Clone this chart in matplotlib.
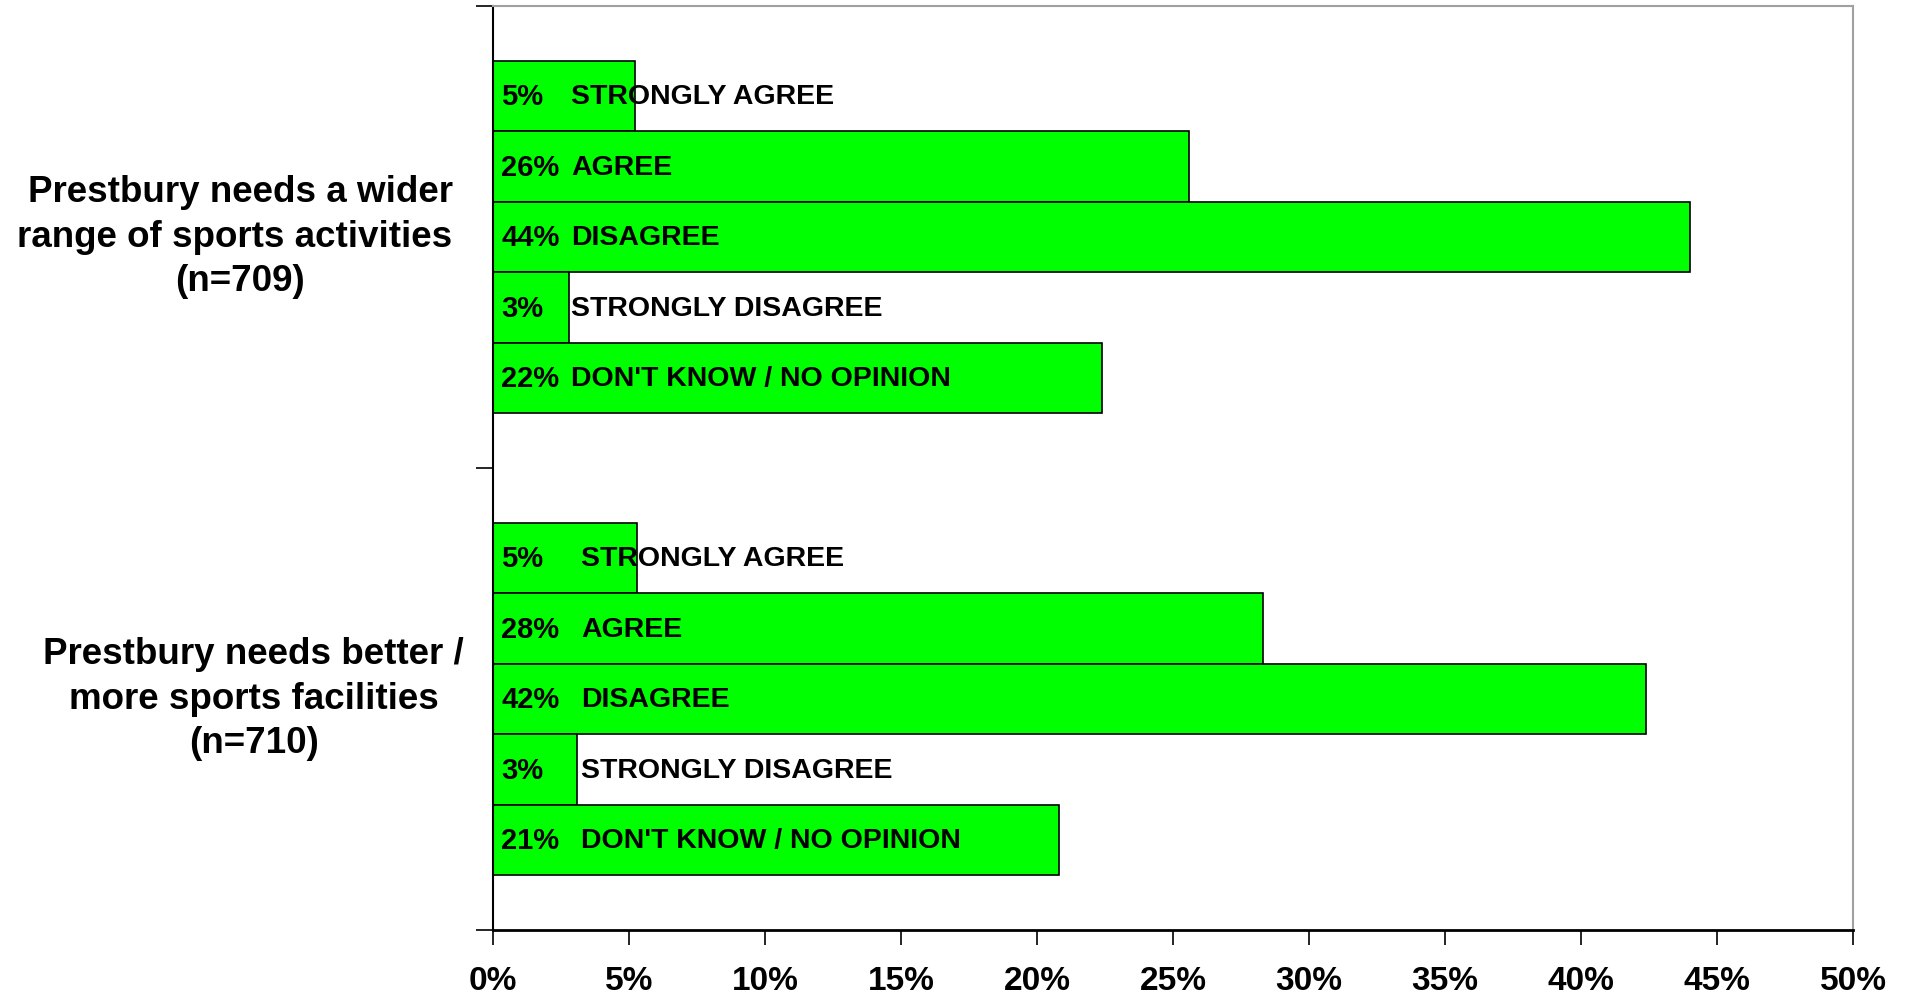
import matplotlib
matplotlib.use("Agg")
import matplotlib.pyplot as plt
import matplotlib.transforms as mtransforms

# ==========================
# DATA
# ==========================

questions = [
    "Prestbury needs a wider\nrange of sports activities \n(n=709)",
    "Prestbury needs better /\nmore sports facilities\n(n=710)",
]
answers = [
    "STRONGLY AGREE",
    "AGREE",
    "DISAGREE",
    "STRONGLY DISAGREE",
    "DON'T KNOW / NO OPINION",
]
wider_range = [5.2, 25.6, 44.0, 2.8, 22.4]
better_facilities = [5.3, 28.3, 42.4, 3.1, 20.8]
wider_labels = ["5%", "26%", "44%", "3%", "22%"]
better_labels = ["5%", "28%", "42%", "3%", "21%"]
x_ticks = [0, 5, 10, 15, 20, 25, 30, 35, 40, 45, 50]

series = [wider_range, better_facilities]
pct_labels = [wider_labels, better_labels]

# ==========================
# LAYOUT / STYLE
# ==========================

FONT = ["Liberation Sans", "DejaVu Sans"]
GREEN = "#00FF00"
BAR_H = 0.1526
TEXT_OFFSET_PX = [78, 88]   # answer text offset from the axis, per question
QUESTION_X = [-0.186, -0.176]

plt.rcParams["font.family"] = FONT

fig = plt.figure(figsize=(19.06, 9.99), dpi=100)
ax = fig.add_axes([0.2587, 0.069, 0.9722 - 0.2587, 0.994 - 0.069])

for qi, values in enumerate(series):
    n = len(values)
    ys = [qi + (j - (n - 1) / 2) * BAR_H for j in range(n)]
    ax.barh(ys, values, height=BAR_H, color=GREEN, edgecolor="black",
            linewidth=1.2, zorder=2)

    pct_tr = ax.transData + mtransforms.ScaledTranslation(8 / 100, -1 / 100, fig.dpi_scale_trans)
    txt_tr = ax.transData + mtransforms.ScaledTranslation(TEXT_OFFSET_PX[qi] / 100, -1 / 100,
                                                          fig.dpi_scale_trans)
    for y, lab, ans in zip(ys, pct_labels[qi], answers):
        ax.text(0, y, lab, transform=pct_tr, ha="left", va="center",
                fontsize=21, fontweight="bold", zorder=3)
        ax.text(0, y, ans, transform=txt_tr, ha="left", va="center",
                fontsize=20.5, fontweight="bold", zorder=3)

    ax.text(QUESTION_X[qi], qi, questions[qi],
            transform=mtransforms.blended_transform_factory(ax.transAxes, ax.transData),
            ha="center", va="center", fontsize=26.5, fontweight="bold",
            linespacing=1.35, multialignment="center")

# Axes
ax.set_xlim(0, 50)
ax.set_ylim(len(series) - 0.5, -0.5)
ax.set_xticks(x_ticks)
ax.set_xticklabels([f"{t}%" for t in x_ticks], fontsize=24, fontweight="bold")
ax.tick_params(axis="x", direction="out", length=11, width=1.2, pad=15)
ax.set_yticks([i - 0.5 for i in range(len(series) + 1)])
ax.set_yticklabels([])
ax.tick_params(axis="y", direction="out", length=12, width=1.2)

ax.spines["left"].set_color("black")
ax.spines["left"].set_linewidth(1.5)
ax.spines["bottom"].set_color("black")
ax.spines["bottom"].set_linewidth(2)
ax.spines["top"].set_color("#A0A0A0")
ax.spines["right"].set_color("#A0A0A0")
ax.spines["top"].set_linewidth(1.5)
ax.spines["right"].set_linewidth(1.5)

fig.savefig("out.png", dpi=100)
